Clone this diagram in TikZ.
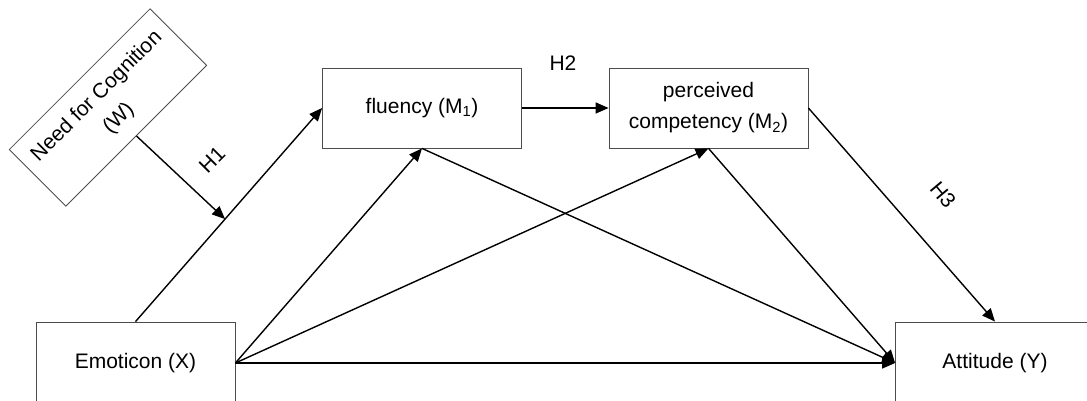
\documentclass[tikz,border=0pt]{standalone}
\usepackage{fontspec}
\setmainfont{Liberation Sans}
\usetikzlibrary{arrows.meta,positioning}

\begin{document}
\begin{tikzpicture}[x=1pt,y=1pt,
  box/.style={shape=rectangle,draw=black!70,line width=0.8pt,minimum width=199pt,minimum height=80pt,align=center,inner sep=0pt,font=\fontsize{21}{31}\selectfont},
  link/.style={line width=1.4pt,-{Triangle[length=13pt,width=11pt]}},
  hyp/.style={font=\fontsize{21}{25}\selectfont}]
\useasboundingbox (0,0) rectangle (1087,401);

\node[box,rotate=45] (W) at (108,293.5){Need for Cognition\\(W)};
\node[box,minimum height=82pt] (X) at (135.5,38){Emoticon (X)};
\node[box] (M1) at (422,293){fluency (M\textsubscript{1})};
\node[box] (M2) at (708.5,293){perceived\\competency (M\textsubscript{2})};
\node[box,minimum height=82pt] (Y) at (995,38){Attitude (Y)};

\draw[link] (X.north) -- (M1.west) coordinate[pos=0.48] (mod);
\draw[link] (W.south) -- (mod);
\draw[link] (X.east) -- (M1.south);
\draw[link] (X.east) -- (M2.south);
\draw[link] (X.east) -- (Y.west);
\draw[link] (M1.south) -- (Y.west);
\draw[link] (M2.south) -- (Y.west);
\draw[link] (M1.east) -- (M2.west);
\draw[link] (M2.east) -- (Y.north);

% hypothesis labels
\node[hyp,rotate=45] (H1) at (212,241){H1};
\node[hyp] (H2) at (563,338){H2};
\node[hyp,rotate=-50] (H3) at (943,206){H3};

\end{tikzpicture}
\end{document}
